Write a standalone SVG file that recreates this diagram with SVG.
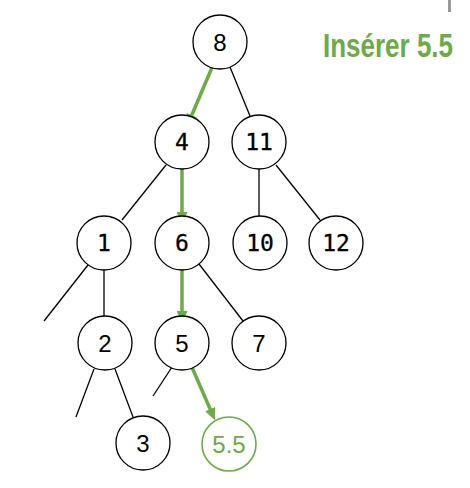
<svg xmlns="http://www.w3.org/2000/svg" width="470" height="488" viewBox="0 0 470 488">
<style>
.n{fill:#fff;stroke:#000;stroke-width:1.3}
.g{fill:#fff;stroke:#6cab45;stroke-width:1.6}
.t{font-family:"Liberation Sans",Arial,sans-serif;font-size:24px;text-anchor:middle;fill:#000}
.m{font-family:"DejaVu Sans Mono",monospace;font-size:23px;text-anchor:middle;fill:#000;stroke:#000;stroke-width:0.3}
.e{stroke:#000;stroke-width:1.3;fill:none}
.a{stroke:#6cab45;stroke-width:3.5;fill:none;marker-end:url(#ah)}
</style>
<defs>
<marker id="ah" viewBox="0 0 12 11" refX="2" refY="5.5" markerWidth="12" markerHeight="11" orient="auto" markerUnits="userSpaceOnUse">
<path d="M0,0 L12,5.5 L0,11 z" fill="#6cab45"/>
</marker>
</defs>
<rect x="448" y="0" width="3" height="12" fill="#9a9a9a"/>
<text x="323" y="57" font-family="'Liberation Sans Narrow','Liberation Sans',sans-serif" font-weight="bold" font-size="34" fill="#6cab45" textLength="130" lengthAdjust="spacingAndGlyphs">Insérer 5.5</text>
<g id="connectors">
<line class="e" x1="230" y1="67" x2="250" y2="116"/>
<line class="e" x1="166" y1="165" x2="122" y2="220"/>
<line class="e" x1="259" y1="169" x2="259" y2="216"/>
<line class="e" x1="276" y1="165" x2="320" y2="220"/>
<line class="e" x1="88" y1="265" x2="44" y2="321"/>
<line class="e" x1="104" y1="270" x2="104" y2="316"/>
<line class="e" x1="199" y1="264" x2="243" y2="321"/>
<line class="e" x1="94" y1="369" x2="76" y2="417"/>
<line class="e" x1="115" y1="369" x2="133" y2="417"/>
<line class="e" x1="174" y1="364" x2="153" y2="396"/>
<line class="a" x1="216" y1="58" x2="191" y2="117"/>
<line class="a" x1="182" y1="166" x2="182" y2="214"/>
<line class="a" x1="182" y1="264" x2="182" y2="313"/>
<line class="a" x1="191" y1="365" x2="211" y2="411"/>
</g>
<g id="n8"><circle class="n" cx="220" cy="42" r="27"/><text class="t" x="220" y="51">8</text></g>
<g id="n4"><circle class="n" cx="182" cy="142" r="27"/><text class="m" x="182" y="150">4</text></g>
<g id="n11"><circle class="n" cx="259" cy="142" r="27"/><text class="m" x="259" y="150">11</text></g>
<g id="n1"><circle class="n" cx="104" cy="243" r="27"/><text class="m" x="104" y="251">1</text></g>
<g id="n6"><circle class="n" cx="182" cy="243" r="27"/><text class="m" x="182" y="251">6</text></g>
<g id="n10"><circle class="n" cx="260" cy="243" r="27"/><text class="m" x="260" y="251">10</text></g>
<g id="n12"><circle class="n" cx="336" cy="243" r="27"/><text class="m" x="336" y="251">12</text></g>
<g id="n2"><circle class="n" cx="105" cy="343" r="27"/><text class="t" x="105" y="352">2</text></g>
<g id="n5"><circle class="n" cx="182" cy="343" r="27"/><text class="t" x="182" y="352">5</text></g>
<g id="n7"><circle class="n" cx="259" cy="343" r="27"/><text class="t" x="259" y="352">7</text></g>
<g id="n3"><circle class="n" cx="143" cy="443" r="27"/><text class="t" x="143" y="452">3</text></g>
<g id="n55"><circle class="g" cx="229" cy="444" r="27"/><text class="t" x="229" y="453" style="fill:#6cab45">5.5</text></g>
</svg>
